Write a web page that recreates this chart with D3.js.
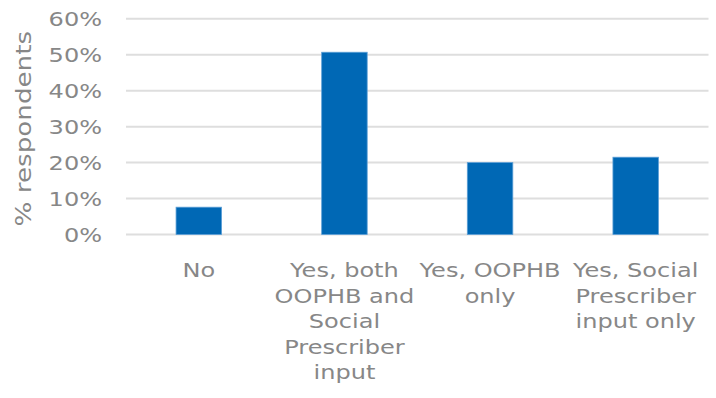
<!DOCTYPE html>
<html>
<head>
<meta charset="utf-8">
<script src="https://cdn.jsdelivr.net/npm/d3@7"></script>
<style>
  html, body { margin: 0; padding: 0; background: #fff; }
  svg { display: block; }
  text { font-family: "DejaVu Sans", Verdana, sans-serif; fill: #878787; }
</style>
</head>
<body>
<svg id="chart" width="716" height="398"></svg>
<script>
// Survey categories, one bar each; labels are pre-split into display lines
const categories = [
  "No",
  "Yes, both OOPHB and Social Prescriber input",
  "Yes, OOPHB only",
  "Yes, Social Prescriber input only"
];
const categoryLines = [
  ["No"],
  ["Yes, both", "OOPHB and", "Social", "Prescriber", "input"],
  ["Yes, OOPHB", "only"],
  ["Yes, Social", "Prescriber", "input only"]
];
// Share of respondents (fraction)
const values = [0.076, 0.507, 0.200, 0.215];
const yTicks = [0, 0.1, 0.2, 0.3, 0.4, 0.5, 0.6];
const yTitle = "% respondents";

const svg = d3.select("#chart");
const margin = { top: 18.8, right: 7.5, bottom: 163.5, left: 126 };
const width = 716, height = 398;
const fontSize = 20.2, stretch = 1.19;

const x = d3.scaleBand()
  .domain(categories)
  .range([margin.left, width - margin.right])
  .paddingInner(0.6875)
  .paddingOuter(0.34375);

const y = d3.scaleLinear()
  .domain([0, 0.6])
  .range([height - margin.bottom, margin.top]);

// Horizontal gridlines
svg.append("g")
  .selectAll("line")
  .data(yTicks)
  .join("line")
  .attr("x1", margin.left)
  .attr("x2", width - margin.right)
  .attr("y1", d => y(d))
  .attr("y2", d => y(d))
  .attr("stroke", "#dedede")
  .attr("stroke-width", 2);

// Y tick labels
const fmt = d3.format(".0%");
svg.append("g")
  .selectAll("text")
  .data(yTicks)
  .join("text")
  .attr("transform", d => `translate(102,${y(d)}) scale(${stretch},1)`)
  .attr("text-anchor", "end")
  .attr("dominant-baseline", "central")
  .style("font-size", fontSize + "px")
  .text(d => fmt(d));

// Bars
svg.append("g")
  .selectAll("rect")
  .data(categories)
  .join("rect")
  .attr("x", d => x(d))
  .attr("width", x.bandwidth())
  .attr("y", (d, i) => y(values[i]))
  .attr("height", (d, i) => y(0) - y(values[i]))
  .attr("fill", "#0068b5")
  .attr("stroke", "#5c9fd6")
  .attr("stroke-width", 0.8);

// Category labels, centred under each bar
const labels = svg.append("g")
  .selectAll("g")
  .data(categories)
  .join("g");
labels.each(function (d, i) {
  const cx = x(d) + x.bandwidth() / 2;
  d3.select(this)
    .selectAll("text")
    .data(categoryLines[i])
    .join("text")
    .attr("transform", (t, j) => `translate(${cx},${277 + j * 25.6}) scale(${stretch},1)`)
    .attr("text-anchor", "middle")
    .style("font-size", fontSize + "px")
    .text(t => t);
});

// Y axis title
svg.append("text")
  .attr("transform", `translate(31,${(y(0) + y(0.6)) / 2 + 2}) rotate(-90) scale(1.19,1)`)
  .attr("text-anchor", "middle")
  .style("font-size", "22px")
  .text(yTitle);
</script>
</body>
</html>
